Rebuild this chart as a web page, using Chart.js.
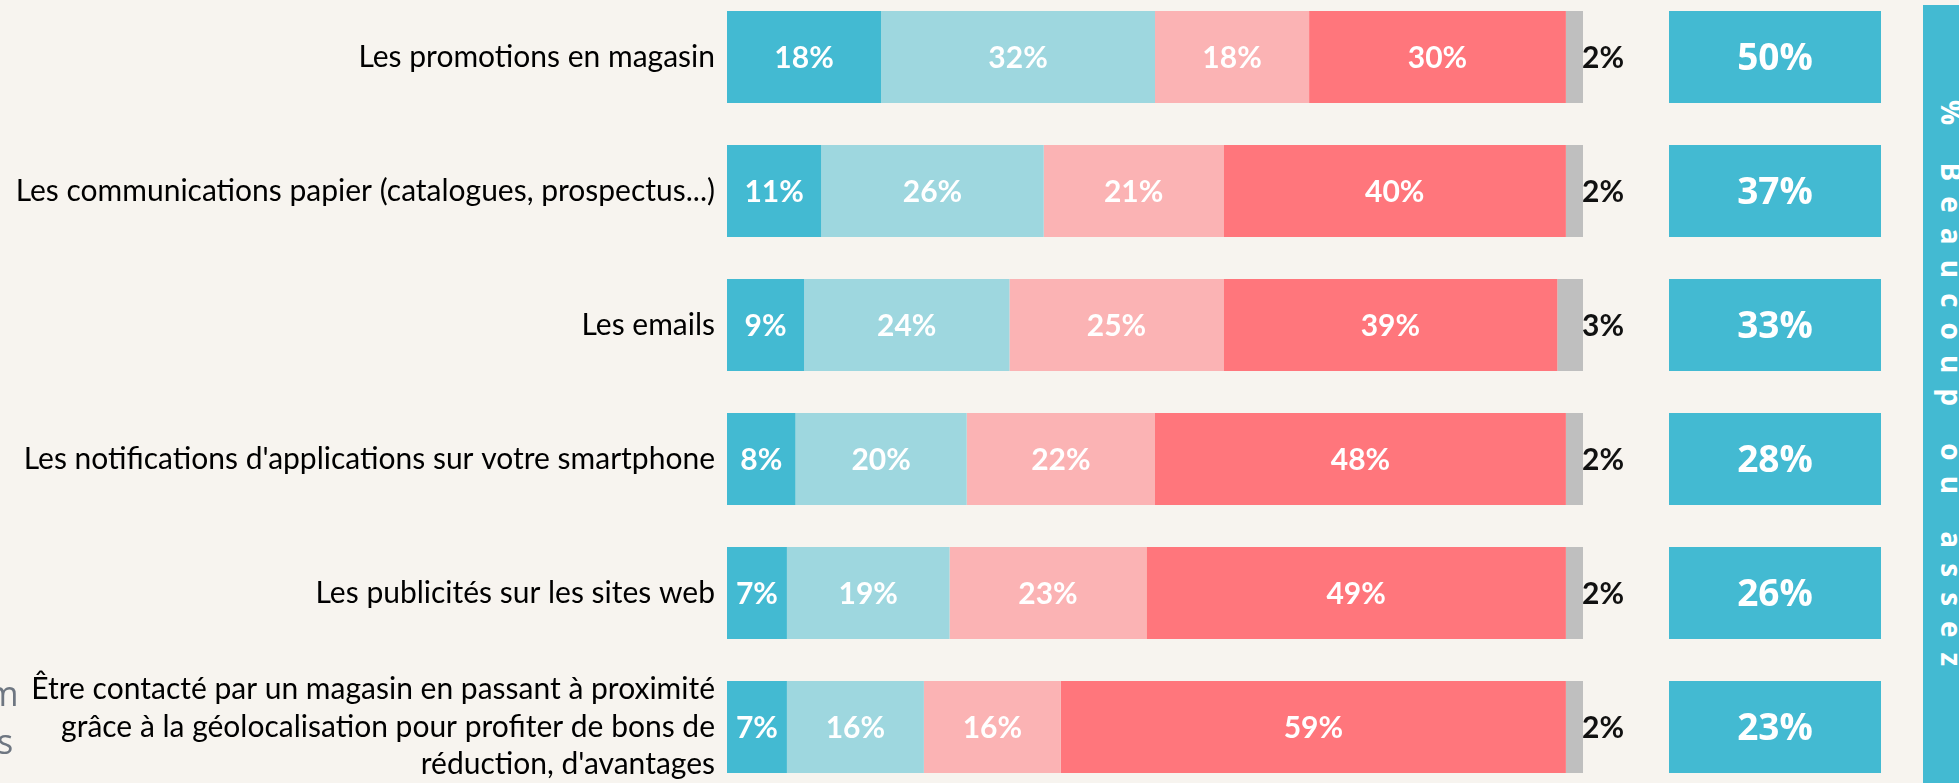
<!DOCTYPE html>
<html>
<head>
<meta charset="utf-8">
<script src="https://cdn.jsdelivr.net/npm/chart.js@4"></script>
<style>
  html, body { margin: 0; padding: 0; }
  body { width: 1959px; height: 783px; background: #F7F4EF; position: relative; overflow: hidden; }
  #main { position: absolute; left: 0; top: -10px; }
  #net { position: absolute; left: 1669px; top: -10px; }
  .banner { position: absolute; left: 1923px; top: 5px; width: 60px; height: 800px; background: #43BAD2; }
  .banner span { position: absolute; left: 43px; top: 95px; transform-origin: 0 0; transform: rotate(90deg);
    white-space: nowrap; font: 700 28px 'Open Sans'; letter-spacing: 15px; line-height: 1; color: #fff; }
  .cut { position: absolute; font: 34px 'Open Sans'; color: #6E7681; line-height: 1; }
</style>
</head>
<body>
<canvas id="main" width="1640" height="804"></canvas>
<canvas id="net" width="212" height="804"></canvas>
<div class="banner"><span>% Beaucoup ou assez</span></div>
<div class="cut" style="left:-13px; top:676px;">m</div>
<div class="cut" style="left:-3px; top:724px;">s</div>
<script>
// questions
var categories = [
    'Les promotions en magasin',
    'Les communications papier (catalogues, prospectus...)',
    'Les emails',
    "Les notifications d'applications sur votre smartphone",
    'Les publicités sur les sites web',
    ['Être contacté par un magasin en passant à proximité',
     'grâce à la géolocalisation pour profiter de bons de',
     "réduction, d'avantages"]
];
var beaucoup   = [18, 11, 9, 8, 7, 7];
var assez      = [32, 26, 24, 20, 19, 16];
var peu        = [18, 21, 25, 22, 23, 16];
var pasDuTout  = [30, 40, 39, 48, 49, 59];
var nsp        = [2, 2, 3, 2, 2, 2];
var netBeaucoupAssez = [50, 37, 33, 28, 26, 23];

var colors = ['#43BAD2', '#9ED7DF', '#FBB3B4', '#FF767C', '#BFBFBF'];
var seriesNames = ['Beaucoup', 'Assez', 'Peu', 'Pas du tout', 'NSP'];
var series = [beaucoup, assez, peu, pasDuTout, nsp];

var segLabels = {
    id: 'segLabels',
    afterDatasetsDraw: function(chart) {
        var ctx = chart.ctx;
        chart.data.datasets.forEach(function(ds, i) {
            chart.getDatasetMeta(i).data.forEach(function(bar, j) {
                ctx.save();
                ctx.font = 'bold 30px Lato';
                ctx.textBaseline = 'middle';
                if (i === 4) {
                    ctx.fillStyle = '#111';
                    ctx.textAlign = 'left';
                    ctx.fillText(ds.data[j] + '%', bar.x - 1, bar.y + 1);
                } else {
                    ctx.fillStyle = '#fff';
                    ctx.textAlign = 'center';
                    ctx.fillText(ds.data[j] + '%', (bar.x + bar.base) / 2, bar.y + 1);
                }
                ctx.restore();
            });
        });
    }
};

var netLabels = {
    id: 'netLabels',
    afterDatasetsDraw: function(chart) {
        var ctx = chart.ctx;
        chart.getDatasetMeta(0).data.forEach(function(bar, j) {
            ctx.save();
            ctx.font = 'bold 37px "Open Sans"';
            ctx.fillStyle = '#fff';
            ctx.textAlign = 'center';
            ctx.textBaseline = 'middle';
            ctx.fillText(netBeaucoupAssez[j] + '%', (bar.x + bar.base) / 2, bar.y + 2);
            ctx.restore();
        });
    }
};

function draw() {
    new Chart(document.getElementById('main'), {
        type: 'bar',
        data: {
            labels: categories,
            datasets: series.map(function(d, i) {
                return {
                    label: seriesNames[i],
                    data: d,
                    backgroundColor: colors[i],
                    borderWidth: 0,
                    categoryPercentage: 1,
                    barPercentage: 0.687
                };
            })
        },
        options: {
            indexAxis: 'y',
            responsive: false,
            animation: false,
            layout: { padding: { left: 0, right: 57, top: 0, bottom: 0 } },
            plugins: { legend: { display: false }, tooltip: { enabled: false } },
            scales: {
                x: { stacked: true, min: 0, max: 100, display: false },
                y: {
                    stacked: true,
                    grid: { display: false, drawTicks: false },
                    border: { display: false },
                    ticks: {
                        color: '#000',
                        padding: 12,
                        font: { family: 'Lato', size: 30, lineHeight: 1.25 }
                    },
                    afterFit: function(scale) {
                        scale.width = 727;
                        scale.paddingTop = 0;
                        scale.paddingBottom = 0;
                    }
                }
            }
        },
        plugins: [segLabels]
    });

    new Chart(document.getElementById('net'), {
        type: 'bar',
        data: {
            labels: categories,
            datasets: [{
                label: '% Beaucoup ou assez',
                data: netBeaucoupAssez.map(function() { return 1; }),
                backgroundColor: '#43BAD2',
                borderWidth: 0,
                categoryPercentage: 1,
                barPercentage: 0.687
            }]
        },
        options: {
            indexAxis: 'y',
            responsive: false,
            animation: false,
            layout: { padding: 0 },
            plugins: { legend: { display: false }, tooltip: { enabled: false } },
            scales: {
                x: { min: 0, max: 1, display: false },
                y: { display: false }
            }
        },
        plugins: [netLabels]
    });
}

Promise.all([
    document.fonts.load('30px Lato'),
    document.fonts.load('bold 30px Lato'),
    document.fonts.load('bold 37px "Open Sans"')
]).then(draw, draw);
</script>
</body>
</html>
